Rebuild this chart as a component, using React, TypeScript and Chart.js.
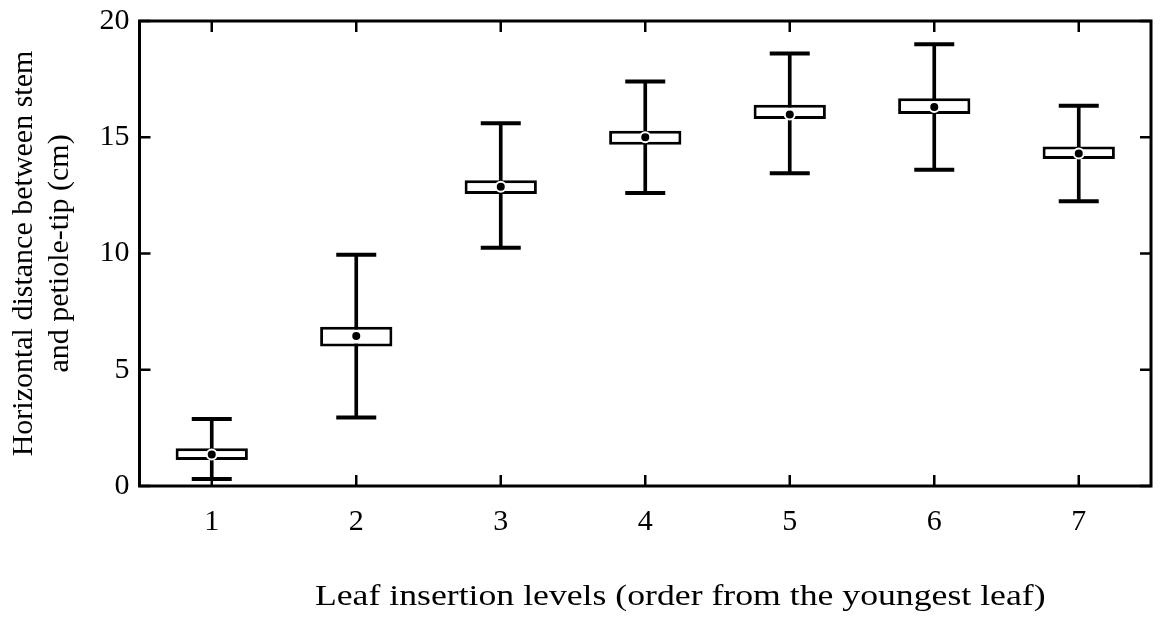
import { useEffect, useRef } from 'react';
import { Chart, registerables } from 'chart.js';

Chart.register(...registerables);

// Leaf insertion levels, counted from the youngest leaf
const levels = ['1', '2', '3', '4', '5', '6', '7'];
// Horizontal stem-to-petiole-tip distance (cm)
const whiskerLow = [0.3, 2.95, 10.25, 12.6, 13.45, 13.6, 12.25];
const boxLow = [1.12, 6.0, 12.56, 14.68, 15.78, 16.0, 14.06];
const boxHigh = [1.62, 6.85, 13.15, 15.28, 16.4, 16.68, 14.6];
const whiskerHigh = [2.88, 9.95, 15.6, 17.4, 18.6, 19.0, 16.35];
const means = [1.35, 6.45, 12.87, 15.0, 15.98, 16.3, 14.3];
const yTicks = [0, 5, 10, 15, 20];
const xCaption = 'Leaf insertion levels (order from the youngest leaf)';

const FONT_FAMILY = '"Liberation Serif", "Times New Roman", serif';
const WIDTH = 1161;
const HEIGHT = 622;

// Closed frame with inward tick marks on all four sides
const framePlugin = {
  id: 'frameTicks',
  afterDraw(chart: any) {
    const { ctx, chartArea: a, scales } = chart;
    const xs = scales.x;
    const ys = scales.y;
    const len = 11;
    ctx.save();
    ctx.strokeStyle = '#000';
    ctx.lineWidth = 2.5;
    ctx.beginPath();
    yTicks.forEach((v) => {
      const py = ys.getPixelForValue(v);
      ctx.moveTo(a.left, py);
      ctx.lineTo(a.left + len, py);
      ctx.moveTo(a.right, py);
      ctx.lineTo(a.right - len, py);
    });
    levels.forEach((_, i) => {
      const px = xs.getPixelForValue(i);
      ctx.moveTo(px, a.bottom);
      ctx.lineTo(px, a.bottom - len);
      ctx.moveTo(px, a.top);
      ctx.lineTo(px, a.top + len);
    });
    ctx.stroke();
    ctx.lineWidth = 3;
    ctx.strokeRect(a.left, a.top, a.right - a.left, a.bottom - a.top);
    ctx.restore();
  },
};

// Wide-set caption under the x axis
const captionPlugin = {
  id: 'xCaption',
  afterDraw(chart: any) {
    const { ctx, chartArea: a } = chart;
    ctx.save();
    ctx.fillStyle = '#000';
    ctx.font = `30px ${FONT_FAMILY}`;
    ctx.textAlign = 'center';
    ctx.textBaseline = 'middle';
    ctx.translate((a.left + a.right) / 2 + 35, 597);
    ctx.scale(1.19, 1);
    ctx.fillText(xCaption, 0, 0);
    ctx.restore();
  },
};

export default function App() {
  const canvasRef = useRef<HTMLCanvasElement | null>(null);

  useEffect(() => {
    const canvas = canvasRef.current;
    if (!canvas) return;
    const chart = new Chart(canvas, {
      type: 'bar',
      data: {
        labels: levels,
        datasets: [
          {
            type: 'bar',
            data: levels.map((_, i) => [whiskerLow[i], whiskerHigh[i]]),
            backgroundColor: '#000',
            barThickness: 3,
            grouped: false,
            order: 4,
          } as any,
          {
            type: 'bar',
            data: levels.map((_, i) => [boxLow[i], boxHigh[i]]),
            backgroundColor: '#fff',
            borderColor: '#000',
            borderWidth: 3,
            borderSkipped: false,
            barPercentage: 0.5,
            categoryPercentage: 1,
            grouped: false,
            order: 3,
          } as any,
          {
            type: 'line',
            data: whiskerHigh,
            showLine: false,
            pointStyle: 'line',
            pointRadius: 20,
            pointBorderWidth: 4,
            pointBorderColor: '#000',
            order: 2,
          } as any,
          {
            type: 'line',
            data: whiskerLow,
            showLine: false,
            pointStyle: 'line',
            pointRadius: 20,
            pointBorderWidth: 4,
            pointBorderColor: '#000',
            order: 2,
          } as any,
          {
            type: 'line',
            data: means,
            showLine: false,
            pointStyle: 'circle',
            pointRadius: 5,
            pointBackgroundColor: '#000',
            pointBorderColor: '#fff',
            pointBorderWidth: 2,
            order: 1,
          } as any,
        ],
      },
      options: {
        animation: false,
        responsive: false,
        devicePixelRatio: 1,
        events: [],
        layout: { autoPadding: false, padding: { top: 21, right: 10, left: 0, bottom: 0 } },
        plugins: {
          legend: { display: false },
          tooltip: { enabled: false },
        },
        scales: {
          x: {
            grid: { display: false, drawTicks: false },
            border: { display: false },
            ticks: {
              color: '#000',
              padding: 18,
              font: { family: FONT_FAMILY, size: 30 },
            },
            afterFit: (s: any) => {
              s.height = 136;
              s.paddingLeft = 0;
              s.paddingRight = 0;
            },
          },
          y: {
            min: 0,
            max: 20,
            grid: { display: false, drawTicks: false },
            border: { display: false },
            afterBuildTicks: (s: any) => {
              s.ticks = yTicks.map((v) => ({ value: v }));
            },
            ticks: {
              color: '#000',
              padding: 10,
              font: { family: FONT_FAMILY, size: 30 },
            },
            title: {
              display: true,
              text: ['Horizontal distance between stem', 'and petiole-tip (cm)'],
              color: '#000',
              font: { family: FONT_FAMILY, size: 30, lineHeight: 1.2 },
              padding: { top: 6, bottom: 0 },
            },
            afterFit: (s: any) => {
              s.width = 139.5;
              s.paddingTop = 0;
              s.paddingBottom = 0;
            },
          },
        },
      },
      plugins: [framePlugin, captionPlugin],
    });
    return () => chart.destroy();
  }, []);

  return (
    <div style={{ position: 'fixed', left: 0, top: 0, width: WIDTH, height: HEIGHT, background: '#fff' }}>
      <canvas ref={canvasRef} width={WIDTH} height={HEIGHT} style={{ display: 'block' }} />
    </div>
  );
}
